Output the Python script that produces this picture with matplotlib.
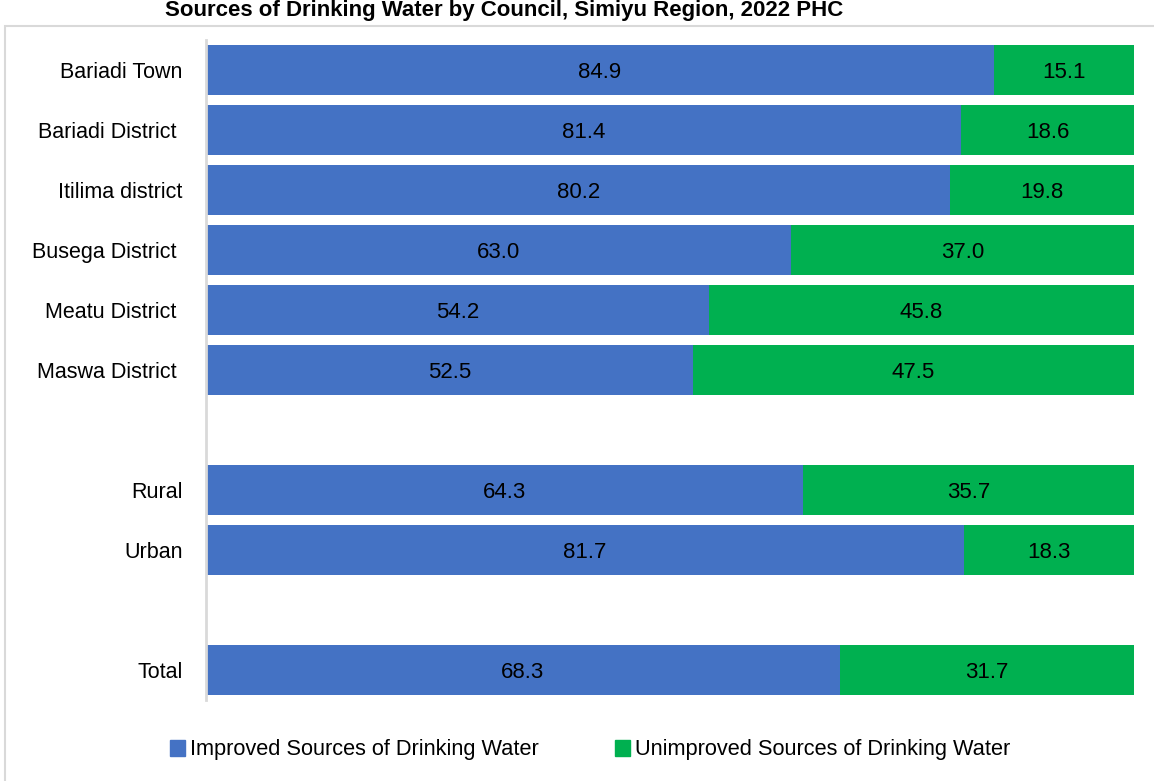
import numpy as np
import matplotlib.pyplot as plt
from matplotlib.patches import Rectangle

plt.rcParams['font.family'] = ['Liberation Sans Narrow', 'Liberation Sans', 'DejaVu Sans']

# data (blank strings are spacer rows)
councils = ['Bariadi Town', 'Bariadi District ', 'Itilima district', 'Busega District ',
            'Meatu District ', 'Maswa District ', '', 'Rural', 'Urban', '', 'Total']
improved = [84.9, 81.4, 80.2, 63.0, 54.2, 52.5, None, 64.3, 81.7, None, 68.3]
unimproved = [15.1, 18.6, 19.8, 37.0, 45.8, 47.5, None, 35.7, 18.3, None, 31.7]

blue = '#4472C4'
green = '#00B050'

fig = plt.figure(figsize=(11.54, 7.81), dpi=100)
ax = fig.add_axes([206/1154, 1-700/781, (1134-206)/1154, 660/781])

# outer chart border
fig.patches.append(Rectangle((5/1154, -0.01), 1.2, 1-26/781+0.01, transform=fig.transFigure,
                             fill=False, edgecolor='#d9d9d9', lw=1.5))

y = np.arange(len(councils))
for i in range(len(councils)):
    if improved[i] is None:
        continue
    ax.barh(y[i], improved[i], height=0.83, color=blue, edgecolor='none')
    ax.barh(y[i], unimproved[i], left=improved[i], height=0.83, color=green, edgecolor='none')
    ax.text(improved[i]/2, y[i], '%.1f' % improved[i], ha='center', va='center_baseline', fontsize=16, color='black')
    ax.text(improved[i] + unimproved[i]/2, y[i], '%.1f' % unimproved[i], ha='center', va='center_baseline', fontsize=16, color='black')

ax.set_xlim(0, 100)
ax.set_ylim(len(councils)-0.5, -0.5)
ax.set_yticks(y)
ax.set_yticklabels(councils, fontsize=15.5)
ax.tick_params(axis='y', length=0, pad=17)
ax.set_xticks([])
for s in ['top', 'right', 'bottom']:
    ax.spines[s].set_visible(False)
ax.spines['left'].set_color('#d9d9d9')
ax.spines['left'].set_linewidth(2)

fig.text(165/1154, 1.0, 'Sources of Drinking Water by Council, Simiyu Region, 2022 PHC',
         ha='left', va='top', fontsize=16, fontweight='bold')

h1 = Rectangle((0, 0), 1, 1, color=blue)
h2 = Rectangle((0, 0), 1, 1, color=green)
fig.legend([h1, h2], ['Improved Sources of Drinking Water', 'Unimproved Sources of Drinking Water'],
           loc='center', bbox_to_anchor=(590/1154, 1-750/781), ncol=2, frameon=False,
           fontsize=15.7, handlelength=0.7, handleheight=0.7, handletextpad=0.2, columnspacing=3.5)

fig.savefig('out.png', dpi=100)
